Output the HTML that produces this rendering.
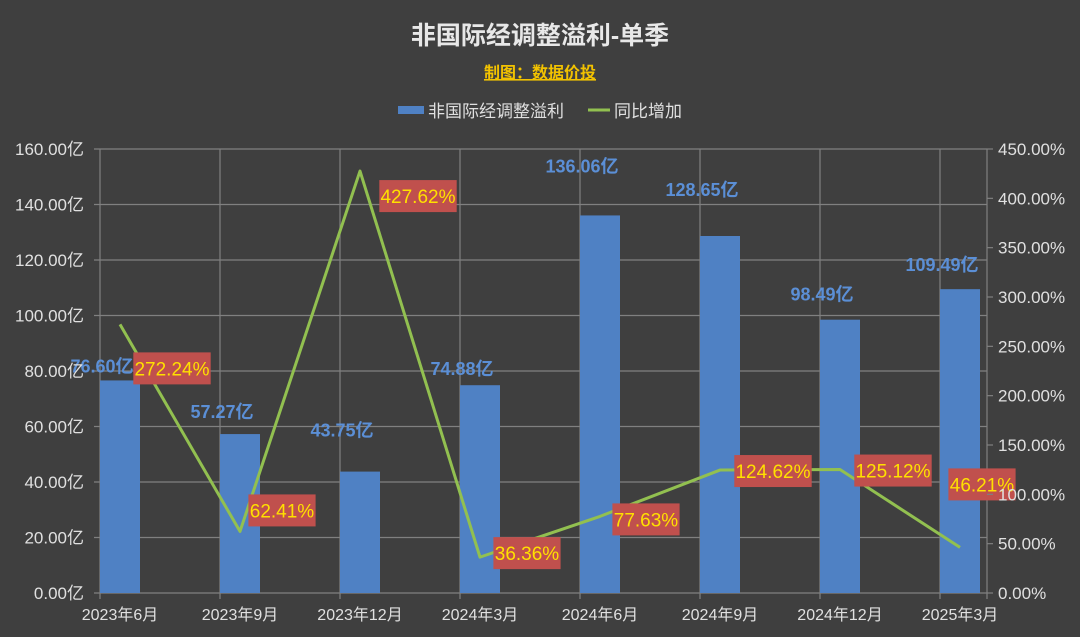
<!DOCTYPE html>
<html><head><meta charset="utf-8">
<style>
html,body{margin:0;padding:0;background:#3f3f3f;}
svg{display:block;font-family:"Liberation Sans","Noto Sans CJK SC",sans-serif;}
</style></head>
<body>
<svg id="chart" width="1080" height="637" xmlns="http://www.w3.org/2000/svg">
<rect x="0" y="0" width="1080" height="637" fill="#3f3f3f"/>
<text x="540" y="44" text-anchor="middle" fill="#e8e8e8" font-size="25" font-weight="bold">非国际经调整溢利-单季</text>
<text x="540" y="78" text-anchor="middle" fill="#f2c200" font-size="16" font-weight="bold" text-decoration="underline">制图：数据价投</text>
<g>
<rect x="398" y="106" width="26" height="8" fill="#4f81c4"/>
<text x="428" y="117" fill="#e0e0e0" font-size="17">非国际经调整溢利</text>
<line x1="588" y1="110" x2="610" y2="110" stroke="#92c050" stroke-width="3"/>
<text x="614" y="117" fill="#e0e0e0" font-size="17">同比增加</text>
</g>
<g id="grid"></g><g id="bars"></g><g id="line"></g><g id="labels"></g><g id="axes"></g>
</svg>
<script>
const categories = ["2023年6月","2023年9月","2023年12月","2024年3月","2024年6月","2024年9月","2024年12月","2025年3月"];
const profit = [76.60, 57.27, 43.75, 74.88, 136.06, 128.65, 98.49, 109.49];
const yoy = [272.24, 62.41, 427.62, 36.36, 77.63, 124.62, 125.12, 46.21];
const leftTicks = [0,20,40,60,80,100,120,140,160];
const rightTicks = [0,50,100,150,200,250,300,350,400,450];

const NS="http://www.w3.org/2000/svg";
const X0=100, STEP=120, BW=40, YB=593, YT=149, XR=987;
const xs = i => X0 + i*STEP;
const yL = v => YB - v/160*(YB-YT);
const yR = v => YB - v/450*(YB-YT);
function mk(tag, attrs, parent){const e=document.createElementNS(NS,tag);for(const k in attrs)e.setAttribute(k,attrs[k]);document.getElementById(parent).appendChild(e);return e;}

leftTicks.forEach(t=>{
  const g=mk('line',{x1:X0-6,x2:XR,y1:yL(t),y2:yL(t),stroke:'#808080','stroke-width':1.2},'grid');
  
  
  const tx=mk('text',{x:84,y:yL(t)+6,'text-anchor':'end',fill:'#e0e0e0','font-size':17},'axes');
  tx.textContent=t.toFixed(2)+'亿';
  
  
});
rightTicks.forEach(t=>{
  const tk=mk('line',{x1:XR,x2:XR+6,y1:yR(t),y2:yR(t),stroke:'#808080','stroke-width':1.2},'axes');
  
  
  const tx=mk('text',{x:998,y:yR(t)+6,fill:'#e0e0e0','font-size':17},'axes');
  tx.textContent=t.toFixed(2)+'%';
  
  
});
for(let i=0;i<=categories.length;i++){
  const x=Math.min(xs(i),XR);
  const v=mk('line',{x1:x,x2:x,y1:YT,y2:YB+6,stroke:'#808080','stroke-width':1.2},'grid');
  
  
}
categories.forEach((c,i)=>{
  const tx=mk('text',{x:xs(i)+20,y:620,'text-anchor':'middle',fill:'#e0e0e0','font-size':16},'axes');
  tx.textContent=c;
  
  
});
const barLabelDY=[-8,-16,-35,-10,-43,-40,-19,-18];
profit.forEach((v,i)=>{
  const r=mk('rect',{x:xs(i),y:yL(v),width:BW,height:YB-yL(v),fill:'#4f81c4'},'bars');
  
  
  const tx=mk('text',{x:xs(i)+2,y:yL(v)+barLabelDY[i],'text-anchor':'middle',fill:'#5b8fd6','font-size':18,'font-weight':'bold'},'labels');
  tx.textContent=v.toFixed(2)+'亿';
  
  
});
const pts=yoy.map((v,i)=>(xs(i)+20)+','+yR(v)).join(' ');
const pl=mk('polyline',{points:pts,fill:'none',stroke:'#92c050','stroke-width':3,'stroke-linejoin':'round'},'line');


const lblDX=[52,42,58,47,46,53,53,22], lblDY=[44,-21,25,-4,3,1,1,-63];
yoy.forEach((v,i)=>{
  const cx=xs(i)+20+lblDX[i], cy=yR(v)+lblDY[i];
  const s=v.toFixed(2)+'%';
  const w=s.length*10.2+6;
  const b=mk('rect',{x:cx-w/2,y:cy-16,width:w,height:32,fill:'#c0504d'},'labels');
  
  
  const tx=mk('text',{x:cx,y:cy+7,'text-anchor':'middle',fill:'#ffe000','font-size':19},'labels');
  tx.textContent=s;
  
  
});
</script>
</body></html>
